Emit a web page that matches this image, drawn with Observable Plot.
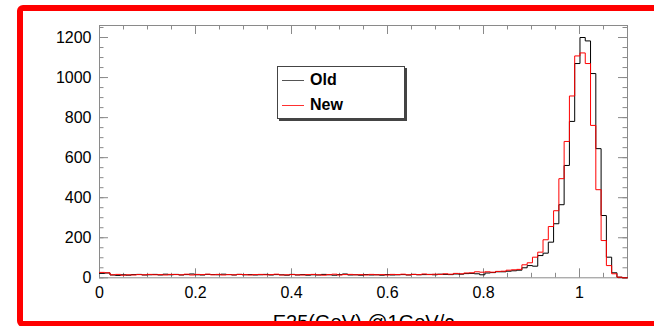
<!DOCTYPE html>
<html>
<head>
<meta charset="utf-8">
<script src="https://cdn.jsdelivr.net/npm/d3@7"></script>
<script src="https://cdn.jsdelivr.net/npm/@observablehq/plot@0.6"></script>
<style>
  html, body { margin: 0; padding: 0; background: #fff; }
  #wrap { position: relative; width: 654px; height: 326px; overflow: hidden; background: #fff;
          font-family: "Liberation Sans", Arial, Helvetica, sans-serif; }
  #chart { position: absolute; left: 0; top: 0; }
  #legend { position: absolute; left: 277px; top: 66px; width: 128px; height: 53px; box-sizing: border-box;
            background: #fff; border: 1px solid #444; box-shadow: 2px 2px 0 #444; }
  .entry { position: absolute; left: 4px; height: 20px; font-weight: bold; font-size: 16px; color: #000; }
  .entry .sw { position: absolute; left: 0; top: 10px; width: 22px; height: 0; border-top: 1px solid; }
  .entry .lb { position: absolute; left: 28px; top: 1px; line-height: 18px; }
  #redbox { position: absolute; left: 17px; top: 5px; width: 700px; height: 322px; box-sizing: border-box;
            border: 6px solid #ff0000; border-radius: 6px; pointer-events: none; }
</style>
</head>
<body>
<div id="wrap">
  <div id="chart"></div>
  <div id="legend"></div>
  <div id="redbox"></div>
</div>
<script>
// ---- data ----
const binWidth = 0.011;      // 100 bins over [0, 1.1]
const xLabel = "E25(GeV) @1GeV/c";
const seriesNames = ["Old", "New"];
const seriesColors = ["#000000", "#ff0000"];
const legendColors = ["#555555", "#ff3030"];

const oldCounts = [
  22, 24, 14, 12, 15, 13, 16, 17, 14, 15,
  17, 14, 18, 15, 17, 14, 16, 19, 15, 14,
  17, 16, 15, 18, 16, 14, 17, 15, 16, 14,
  15, 17, 14, 16, 15, 13, 17, 14, 16, 13,
  15, 14, 17, 15, 13, 16, 19, 14, 15, 13,
  16, 14, 15, 13, 16, 14, 15, 16, 14, 17,
  15, 16, 17, 15, 18, 17, 16, 19, 18, 21,
  22, 20, 15, 24, 26, 30, 30, 33, 35, 38,
  50, 61, 58, 111, 123, 178, 270, 365, 561, 781,
  1070, 1200, 1183, 1020, 645, 311, 103, 25, 3, 0
];
const newCounts = [
  27, 25, 15, 17, 13, 15, 14, 16, 15, 17,
  15, 16, 14, 17, 16, 15, 18, 14, 17, 16,
  18, 15, 17, 14, 16, 15, 17, 16, 14, 16,
  17, 15, 16, 18, 14, 15, 16, 15, 14, 16,
  17, 15, 13, 16, 18, 14, 16, 17, 15, 16,
  14, 17, 15, 16, 14, 17, 16, 18, 15, 17,
  16, 19, 16, 18, 17, 20, 18, 22, 20, 24,
  25, 30, 28, 30, 28, 32, 33, 38, 40, 42,
  65, 75, 103, 128, 190, 256, 335, 495, 681, 908,
  1108, 1123, 1070, 761, 440, 186, 61, 20, 3, 0
];

const xMajor = [0, 0.2, 0.4, 0.6, 0.8, 1.0];
const xMinor = d3.range(0, 22).map(i => +(i * 0.05).toFixed(2));
const yMajor = [0, 200, 400, 600, 800, 1000, 1200];
const yMinor = d3.range(0, 26).map(i => i * 50);
const xDomain = [0, 1.1];
const yDomain = [0, 1260];

// ---- layout ----
const W = 654, H = 326;
const mL = 99, mR = 27, mT = 25, mB = 48.7;
const plotW = W - mL - mR, plotH = H - mT - mB;
const majorLen = 9, minorLen = 4.5;
const tickColor = "#8a8a8a";

function stepPoints(counts) {
  const pts = counts.map((v, i) => ({x: i * binWidth, y: v}));
  pts.push({x: counts.length * binWidth, y: counts[counts.length - 1]});
  return pts;
}

const fmt = d => String(+d.toFixed(1));

const chart = Plot.plot({
  width: W, height: H,
  marginLeft: mL, marginRight: mR, marginTop: mT, marginBottom: mB,
  x: {domain: xDomain},
  y: {domain: yDomain},
  style: {fontFamily: "'Liberation Sans', Arial, Helvetica, sans-serif", fontSize: "16px", color: "#000", background: "transparent", overflow: "visible"},
  marks: [
    // ticks inward on all four sides
    Plot.ruleX(xMinor, {x: d => d, stroke: tickColor, insetTop: plotH - minorLen}),
    Plot.ruleX(xMinor, {x: d => d, stroke: tickColor, insetBottom: plotH - minorLen}),
    Plot.ruleX(xMajor, {x: d => d, stroke: tickColor, insetTop: plotH - majorLen}),
    Plot.ruleX(xMajor, {x: d => d, stroke: tickColor, insetBottom: plotH - majorLen}),
    Plot.ruleY(yMinor, {y: d => d, stroke: tickColor, insetRight: plotW - minorLen}),
    Plot.ruleY(yMinor, {y: d => d, stroke: tickColor, insetLeft: plotW - minorLen}),
    Plot.ruleY(yMajor, {y: d => d, stroke: tickColor, insetRight: plotW - majorLen}),
    Plot.ruleY(yMajor, {y: d => d, stroke: tickColor, insetLeft: plotW - majorLen}),
    Plot.frame({stroke: tickColor}),
    Plot.line(stepPoints(oldCounts), {x: "x", y: "y", curve: "step-after", stroke: seriesColors[0], strokeWidth: 1}),
    Plot.line(stepPoints(newCounts), {x: "x", y: "y", curve: "step-after", stroke: seriesColors[1], strokeWidth: 1}),
    Plot.axisX({ticks: xMajor, tickSize: 0, tickPadding: 9, tickFormat: fmt, label: null, fontSize: 16}),
    Plot.axisY({ticks: yMajor, tickSize: 0, tickPadding: 8, tickFormat: d => String(d), label: null, fontSize: 16}),
    Plot.text([xLabel], {text: d => d, frameAnchor: "bottom", lineAnchor: "bottom", dy: 51, fontSize: 20})
  ]
});
document.getElementById("chart").appendChild(chart);

// legend
const lg = document.getElementById("legend");
seriesNames.forEach((name, i) => {
  const e = document.createElement("div");
  e.className = "entry";
  e.style.top = (3 + i * 25) + "px";
  e.innerHTML = `<span class="sw" style="border-color:${legendColors[i]}"></span><span class="lb">${name}</span>`;
  lg.appendChild(e);
});
</script>
</body>
</html>
